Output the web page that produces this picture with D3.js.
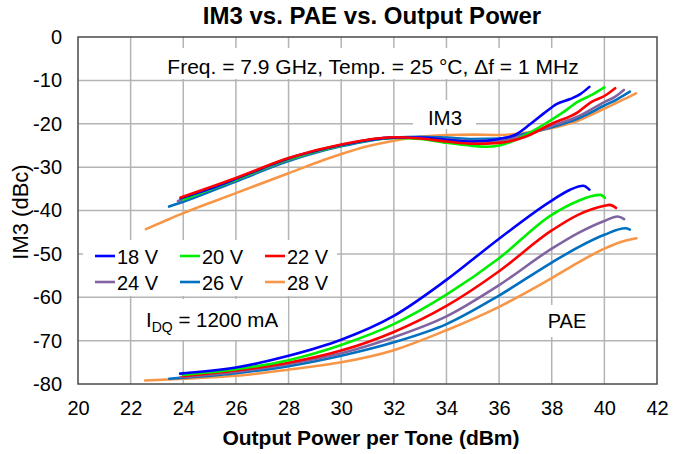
<!DOCTYPE html>
<html>
<head>
<meta charset="utf-8">
<script src="https://cdn.jsdelivr.net/npm/d3@7"></script>
<style>
  html, body { margin: 0; padding: 0; background: #fff; }
  svg text { font-family: "Liberation Sans", Arial, sans-serif; fill: #000; }
</style>
</head>
<body>
<svg id="chart" width="673" height="454"></svg>
<script>
// Supply voltages (legend order)
const voltages = ["18 V", "20 V", "22 V", "24 V", "26 V", "28 V"];

// Axis ticks
const xTicks = [20, 22, 24, 26, 28, 30, 32, 34, 36, 38, 40, 42];
const yTicks = [0, -10, -20, -30, -40, -50, -60, -70, -80];
const yTickLabels = ["0", "-10", "-20", "-30", "-40", "-50", "-60", "-70", "-80"];

// IM3 (dBc) vs output power per tone (dBm)
const im3_18V = [[23.9,-37.2],[25,-35.0],[26,-32.7],[27,-30.3],[28,-28.0],[29,-26.3],[30,-24.9],[31,-23.8],[32,-23.2],[33,-23.2],[34,-23.7],[35,-24.1],[36,-23.5],[36.6,-22.6],[37.2,-20.0],[37.7,-17.6],[38.2,-15.4],[38.7,-14.3],[39.1,-13.1],[39.43,-11.5]];
const im3_20V = [[24.0,-37.5],[26,-32.9],[28,-28.2],[30,-25.0],[32,-23.3],[33,-23.5],[34,-24.4],[35,-25.1],[35.5,-25.3],[36,-25.0],[36.6,-23.8],[37.24,-21.8],[37.75,-20.0],[38.4,-17.5],[39,-14.9],[39.5,-13.4],[40.0,-11.6]];
const im3_22V = [[23.9,-37.0],[26,-32.5],[28,-27.9],[30,-24.8],[32,-23.1],[33,-23.4],[34,-24.1],[35,-24.6],[36,-24.4],[37,-23.0],[38,-20.0],[39,-17.3],[39.5,-15.0],[40,-13.6],[40.41,-11.8]];
const im3_24V = [[23.8,-37.8],[26,-33.0],[28,-28.3],[30,-25.0],[32,-23.1],[33,-23.2],[34,-23.6],[35,-24.0],[36,-23.9],[37,-22.6],[38,-20.5],[39,-18.3],[40,-15.0],[40.4,-13.8],[40.74,-12.2]];
const im3_26V = [[23.46,-39.1],[24,-38.0],[26,-33.3],[28,-28.6],[30,-25.2],[32,-23.2],[33,-23.0],[34,-23.2],[35,-23.5],[36,-23.4],[37,-22.3],[38,-20.8],[39,-18.8],[40,-15.8],[40.5,-14.3],[40.97,-12.6]];
const im3_28V = [[22.58,-44.3],[23.34,-42.3],[24,-40.6],[26,-36.0],[28,-31.4],[30,-27.0],[31,-25.2],[32,-23.9],[33,-23.0],[34,-22.6],[35,-22.5],[36,-22.6],[37,-22.1],[38,-21.0],[39,-19.3],[40,-16.5],[40.6,-14.8],[41.2,-13.0]];

// PAE curves, drawn on the same vertical scale
const pae_18V = [[23.88,-77.6],[26,-76.2],[28,-73.5],[30,-69.8],[32,-64.3],[34,-56.0],[36,-46.5],[38,-37.7],[38.7,-35.2],[39.2,-34.3],[39.43,-35.2]];
const pae_20V = [[24.0,-77.9],[26,-76.6],[28,-74.5],[30,-71.0],[32,-66.2],[34,-59.4],[36,-51.0],[38,-41.0],[39,-37.8],[39.5,-36.7],[39.85,-36.4],[40.02,-37.1]];
const pae_22V = [[24.0,-78.2],[26,-76.9],[28,-75.1],[30,-72.3],[32,-68.0],[34,-62.0],[36,-54.0],[38,-44.6],[39,-41.0],[40,-38.9],[40.2,-38.7],[40.44,-39.4]];
const pae_24V = [[23.9,-78.4],[26,-77.2],[28,-75.4],[30,-72.9],[32,-69.2],[34,-64.4],[36,-57.2],[38,-48.8],[39,-45.2],[40,-42.4],[40.5,-41.4],[40.75,-42.0]];
const pae_26V = [[23.47,-78.8],[26,-77.5],[28,-75.9],[30,-73.5],[32,-70.4],[34,-66.2],[36,-59.6],[38,-52.0],[39,-48.5],[40,-45.6],[40.8,-44.1],[40.97,-44.4]];
const pae_28V = [[22.55,-79.2],[24,-78.8],[26,-78.1],[28,-76.7],[30,-75.0],[32,-72.2],[34,-67.6],[36,-62.2],[38,-55.6],[39,-52.0],[40,-48.8],[40.6,-47.3],[41.22,-46.4]];

const im3Series = [im3_18V, im3_20V, im3_22V, im3_24V, im3_26V, im3_28V];
const paeSeries = [pae_18V, pae_20V, pae_22V, pae_24V, pae_26V, pae_28V];
const colors = ["#0000ff", "#00ee00", "#ff0000", "#8064a2", "#0070c0", "#f79646"];

const svg = d3.select("#chart");
const plot = { left: 78, right: 657, top: 37, bottom: 384 };

const x = d3.scaleLinear().domain([20, 42]).range([plot.left, plot.right]);
const y = d3.scaleLinear().domain([-80, 0]).range([plot.bottom, plot.top]);

// Gridlines
const grid = svg.append("g").attr("stroke", "#b4b4b4").attr("stroke-width", 1.5);
grid.selectAll("line.v").data(xTicks.slice(1, -1)).join("line")
  .attr("x1", d => x(d)).attr("x2", d => x(d))
  .attr("y1", plot.top).attr("y2", plot.bottom);
grid.selectAll("line.h").data(yTicks.slice(1, -1)).join("line")
  .attr("x1", plot.left).attr("x2", plot.right)
  .attr("y1", d => y(d)).attr("y2", d => y(d));

// White label backgrounds that mask the grid
const boxes = [
  [155, 48, 437, 31],   // conditions
  [413, 100, 63, 29],   // IM3
  [83, 240, 254, 56],   // legend
  [133, 299, 155, 41],  // IDQ
  [540, 305, 54, 32]    // PAE
];
svg.append("g").selectAll("rect").data(boxes).join("rect")
  .attr("x", d => d[0]).attr("y", d => d[1])
  .attr("width", d => d[2]).attr("height", d => d[3])
  .attr("fill", "#fff");

// Curves
const line = d3.line().x(d => x(d[0])).y(d => y(d[1])).curve(d3.curveMonotoneX);
const curves = svg.append("g").attr("fill", "none").attr("stroke-width", 2.6)
  .attr("stroke-linecap", "round").attr("stroke-linejoin", "round");
// draw 28 V first so the lower-voltage traces sit on top
[5, 4, 3, 2, 1, 0].forEach(i => {
  curves.append("path").attr("d", line(paeSeries[i])).attr("stroke", colors[i]);
});
[5, 4, 3, 1, 0, 2].forEach(i => {
  curves.append("path").attr("d", line(im3Series[i])).attr("stroke", colors[i]);
});

// Frame
svg.append("rect")
  .attr("x", plot.left).attr("y", plot.top)
  .attr("width", plot.right - plot.left).attr("height", plot.bottom - plot.top)
  .attr("fill", "none").attr("stroke", "#4a4a4a").attr("stroke-width", 1.5);

// Axis tick labels
const yAxis = d3.axisLeft(y).tickValues(yTicks)
  .tickFormat((d, i) => yTickLabels[i]).tickSize(0).tickPadding(16);
const gy = svg.append("g").attr("transform", `translate(${plot.left},0)`).call(yAxis);
gy.select(".domain").remove();
gy.selectAll("text").style("font-size", "20px").style("font-family", "Liberation Sans, Arial, sans-serif");

const xAxis = d3.axisBottom(x).tickValues(xTicks).tickFormat(d3.format("d")).tickSize(0).tickPadding(17);
const gx = svg.append("g").attr("transform", `translate(0,${plot.bottom})`).call(xAxis);
gx.select(".domain").remove();
gx.selectAll("text").style("font-size", "20px").style("font-family", "Liberation Sans, Arial, sans-serif");

// Title and axis titles
svg.append("text").attr("x", 372).attr("y", 24).attr("text-anchor", "middle")
  .style("font-size", "24px").style("font-weight", "bold")
  .text("IM3 vs. PAE vs. Output Power");
svg.append("text").attr("x", 371).attr("y", 445).attr("text-anchor", "middle")
  .style("font-size", "21px").style("font-weight", "bold")
  .text("Output Power per Tone (dBm)");
svg.append("text").attr("transform", "translate(28,212) rotate(-90)").attr("text-anchor", "middle")
  .style("font-size", "22px")
  .text("IM3 (dBc)");

// Annotations
svg.append("text").attr("x", 373).attr("y", 74).attr("text-anchor", "middle")
  .style("font-size", "21px")
  .text("Freq. = 7.9 GHz, Temp. = 25 °C, Δf = 1 MHz");
svg.append("text").attr("x", 445).attr("y", 125).attr("text-anchor", "middle")
  .style("font-size", "20.5px").text("IM3");
svg.append("text").attr("x", 567).attr("y", 328).attr("text-anchor", "middle")
  .style("font-size", "20px").text("PAE");
const idq = svg.append("text").attr("x", 146).attr("y", 327).style("font-size", "20.5px");
idq.append("tspan").text("I");
idq.append("tspan").attr("dy", 5).style("font-size", "14px").text("DQ");
idq.append("tspan").attr("dy", -5).text(" = 1200 mA");

// Legend
const legendCols = [95, 180, 265];
const legendRows = [256, 282];
const legend = svg.append("g");
voltages.forEach((v, i) => {
  const lx = legendCols[i % 3], ly = legendRows[Math.floor(i / 3)];
  legend.append("line").attr("x1", lx).attr("x2", lx + 20).attr("y1", ly).attr("y2", ly)
    .attr("stroke", colors[i]).attr("stroke-width", 2.6);
  legend.append("text").attr("x", lx + 22).attr("y", ly + 7.5).style("font-size", "20px").text(v);
});
</script>
</body>
</html>
